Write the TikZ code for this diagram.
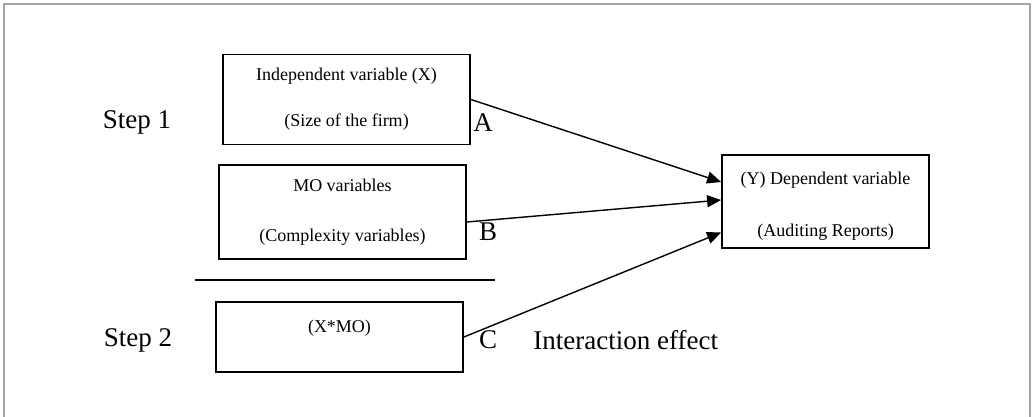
\documentclass[tikz,border=0pt]{standalone}
\usepackage{fontspec}
\setmainfont{Liberation Serif}
\usetikzlibrary{calc,positioning,arrows.meta}
\tikzset{
    varbox/.style={
        rectangle,
        draw=black,
        line width=1.8pt,
        align=center,
        font=\fontsize{18}{46}\selectfont,
        inner sep=0pt,
    },
    steplabel/.style={
        font=\fontsize{27}{30}\selectfont,
        inner sep=0pt,
    },
    connector/.style={
        -{Triangle[length=14pt,width=12pt]},
        line width=1.4pt,
    },
}
\begin{document}
\begin{tikzpicture}[x=1pt,y=-1pt]
    \useasboundingbox (0,0) rectangle (1034,417);
    \draw[gray!70,line width=1.5pt] (4,417) -- (4,4) -- (1030,4) -- (1030,417);
    \node[varbox,minimum width=247pt,minimum height=90pt](xvar) at (346.5,99.5){Independent variable (X)\\(Size of the firm)};
    \node[varbox,minimum width=247pt,minimum height=94pt](movar) at (342.5,212){MO variables\\[4pt](Complexity variables)};
    \node[varbox,minimum width=247pt,minimum height=70pt,text depth=21pt](xmo) at (339.5,337){(X*MO)};
    \node[varbox,minimum width=207pt,minimum height=93pt,text height=73pt](yvar) at (825.5,201.5){(Y) Dependent variable\\[6pt](Auditing Reports)};
    \node[steplabel](s1) at (137,122){Step 1};
    \node[steplabel](s2) at (138,340){Step 2};
    \node[steplabel](la) at (483,123){A};
    \node[steplabel](lb) at (488,232){B};
    \node[steplabel](lc) at (488,340){C};
    \node[steplabel,right=36pt of lc](ie){Interaction effect};
    \draw[line width=1.8pt] (195,280) -- (495,280);
    \draw[connector] (xvar.east) -- ($(yvar.west)+(0,-19.5)$);
    \draw[connector] ($(movar.east)+(0,10)$) -- ($(yvar.west)+(0,-1.5)$);
    \draw[connector] (xmo.east) -- ($(yvar.west)+(0,31)$);
\end{tikzpicture}
\end{document}
